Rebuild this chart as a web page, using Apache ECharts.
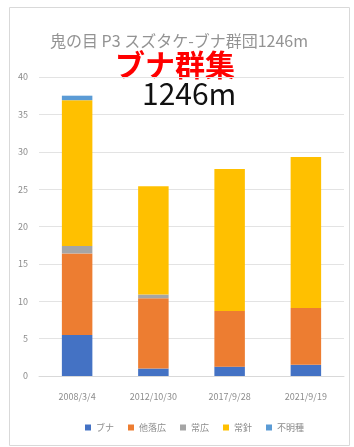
<!DOCTYPE html>
<html>
<head>
<meta charset="utf-8">
<script src="https://cdn.jsdelivr.net/npm/echarts@6/dist/echarts.min.js"></script>
<style>
  html, body { margin: 0; padding: 0; background: #fff; }
  #chart { width: 354px; height: 447px; }
</style>
</head>
<body>
<div id="chart"></div>
<script>
// Survey dates
const categories = ['2008/3/4', '2012/10/30', '2017/9/28', '2021/9/19'];
// Stacked components
const buna = [5.5, 1.0, 1.25, 1.5];
const otherDeciduous = [10.9, 9.4, 7.45, 7.6];
const evergreenBroad = [1.0, 0.5, 0, 0];
const evergreenConifer = [19.5, 14.5, 19.0, 20.2];
const unknown = [0.6, 0, 0, 0];
const seriesNames = ['ブナ', '他落広', '常広', '常針', '不明種'];
const yTicks = { min: 0, max: 40, interval: 5 };

const colors = ['#4472C4', '#ED7D31', '#A5A5A5', '#FFC000', '#5B9BD5'];
const font = '"Noto Sans CJK JP", "Noto Sans", sans-serif';
const values = [buna, otherDeciduous, evergreenBroad, evergreenConifer, unknown];

const chart = echarts.init(document.getElementById('chart'));
chart.setOption({
  animation: false,
  textStyle: { fontFamily: font },
  color: colors,
  graphic: [
    { type: 'rect', shape: { x: 9.5, y: 7.5, width: 340, height: 438 },
      style: { fill: 'none', stroke: '#d9d9d9', lineWidth: 1 }, z: -1 },
    { type: 'text', left: 50, top: 33,
      style: { text: '鬼の目 P3 スズタケ-ブナ群団1246m', fill: '#939393', font: '16px ' + font } },
    { type: 'text', left: 115, top: 50,
      style: { text: 'ブナ群集', fill: '#ff0000', font: 'bold 30px ' + font } },
    { type: 'text', left: 142, top: 79,
      style: { text: '1246m', fill: '#111', font: '30px ' + font } }
  ],
  legend: {
    bottom: 10, left: 80,
    itemWidth: 6, itemHeight: 6, itemGap: 14,
    icon: 'rect',
    textStyle: { color: '#8c8c8c', fontSize: 9, fontFamily: font },
    data: seriesNames
  },
  grid: { left: 39, right: 10, top: 77, bottom: 71 },
  xAxis: {
    type: 'category', data: categories,
    axisLine: { lineStyle: { color: '#d9d9d9' } },
    axisTick: { show: false },
    axisLabel: { color: '#8c8c8c', fontSize: 9, margin: 16 }
  },
  yAxis: {
    type: 'value', min: yTicks.min, max: yTicks.max, interval: yTicks.interval,
    axisLabel: { color: '#8c8c8c', fontSize: 9, margin: 11 },
    splitLine: { lineStyle: { color: '#e3e3e3' } },
    axisLine: { show: false }, axisTick: { show: false }
  },
  series: seriesNames.map((name, i) => ({
    name, type: 'bar', stack: 'total', barWidth: '40%',
    data: values[i]
  }))
});
</script>
</body>
</html>
